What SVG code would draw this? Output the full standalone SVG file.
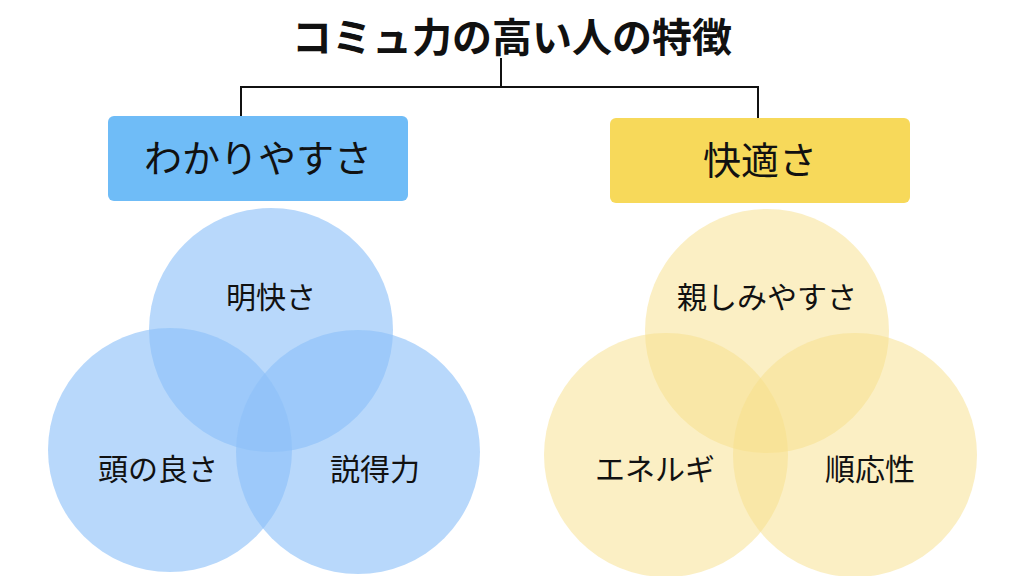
<svg xmlns="http://www.w3.org/2000/svg" width="1024" height="576" viewBox="0 0 1024 576">
<style>
text{font-family:"Noto Sans CJK JP","Noto Sans",sans-serif;text-anchor:middle;fill:#111}
.t{font-size:40px;font-weight:bold}
.h{font-size:38px}
.l{font-size:30px}
.b{fill:#8cc0f8;fill-opacity:0.62}
.y{fill:#f7e08a;fill-opacity:0.5}
.c{stroke:#111;stroke-width:2;fill:none}
</style>
<rect width="1024" height="576" fill="#fff"/>
<g id="title"><text class="t" x="512" y="52">コミュ力の高い人の特徴</text></g>
<g id="connectors"><path class="c" d="M501 58V87M241 87H758M241 86V116M758 86V118"/></g>
<g id="wakari"><rect x="108" y="116" width="300" height="85" rx="6" fill="#6fbcf7"/><text class="h" x="258" y="172">わかりやすさ</text></g>
<g id="kaiteki"><rect x="610" y="118" width="300" height="85" rx="6" fill="#f7d95a"/><text class="h" x="760" y="174">快適さ</text></g>
<g id="meikai"><circle class="b" cx="271" cy="330" r="122"/><text class="l" x="271" y="308">明快さ</text></g>
<g id="atama"><circle class="b" cx="170" cy="450" r="122"/><text class="l" x="158" y="480">頭の良さ</text></g>
<g id="settoku"><circle class="b" cx="358" cy="452" r="122"/><text class="l" x="375" y="480">説得力</text></g>
<g id="shitashimi"><circle class="y" cx="767" cy="331" r="122"/><text class="l" x="767" y="308">親しみやすさ</text></g>
<g id="energy"><circle class="y" cx="666" cy="455" r="122"/><text class="l" x="655" y="480">エネルギ</text></g>
<g id="junnou"><circle class="y" cx="855" cy="455" r="122"/><text class="l" x="870" y="480">順応性</text></g>
</svg>
